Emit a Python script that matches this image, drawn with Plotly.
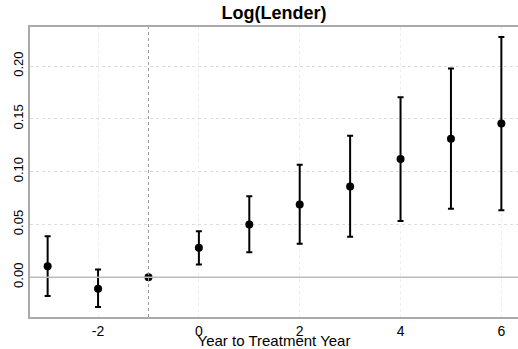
import plotly.graph_objects as go

years = [-3, -2, -1, 0, 1, 2, 3, 4, 5, 6]
coef = [0.0103, -0.0109, 0.0, 0.0278, 0.0499, 0.0689, 0.0860, 0.1119, 0.1312, 0.1455]
upper = [0.0387, 0.0072, None, 0.0436, 0.0766, 0.1065, 0.1340, 0.1705, 0.1976, 0.2275]
lower = [-0.0178, -0.0283, None, 0.0121, 0.0237, 0.0318, 0.0383, 0.0533, 0.0649, 0.0633]

err_plus = [None if u is None else u - c for u, c in zip(upper, coef)]
err_minus = [None if l is None else c - l for c, l in zip(coef, lower)]

fig = go.Figure()
fig.add_vline(x=-1, line=dict(color="#999999", width=1, dash="dot"))
fig.add_hline(y=0, line=dict(color="#bbbbbb", width=1.5))

fig.add_trace(go.Scatter(
    x=years, y=coef, mode="markers",
    marker=dict(color="black", size=8),
    error_y=dict(type="data", symmetric=False, array=err_plus, arrayminus=err_minus,
                 color="black", thickness=2, width=3, visible=True),
    showlegend=False,
))

fig.update_layout(
    width=518, height=349,
    margin=dict(l=30, r=0, t=27, b=27),
    paper_bgcolor="white", plot_bgcolor="white",
    font=dict(family="Liberation Sans, Arial, sans-serif", color="black"),
    title=dict(text="<b>Log(Lender)</b>", x=0.5, xref="paper", xanchor="center", y=0.965, yanchor="middle",
               font=dict(size=18, color="black")),
    xaxis=dict(range=[-3.35, 6.33], tickvals=[-2, 0, 2, 4, 6], ticktext=["-2", "0", "2", "4", "6"],
               showgrid=True, gridcolor="#eeeeee", gridwidth=1, griddash="dot",
               zeroline=False, showline=True, linecolor="#aaaaaa", linewidth=1.5, mirror=True,
               ticks="", tickfont=dict(size=14, color="black"),
               title=dict(text="Year to Treatment Year", font=dict(size=15, color="black"), standoff=0)),
    yaxis=dict(range=[-0.0377, 0.237], tickvals=[0.0, 0.05, 0.10, 0.15, 0.20],
               ticktext=["0.00", "0.05", "0.10", "0.15", "0.20"], tickangle=-90,
               showgrid=True, gridcolor="#dddddd", gridwidth=1, griddash="dot",
               zeroline=False, showline=True, linecolor="#aaaaaa", linewidth=1.5,
               ticks="", tickfont=dict(size=13, color="black")),
)

fig.write_html("out.html")
